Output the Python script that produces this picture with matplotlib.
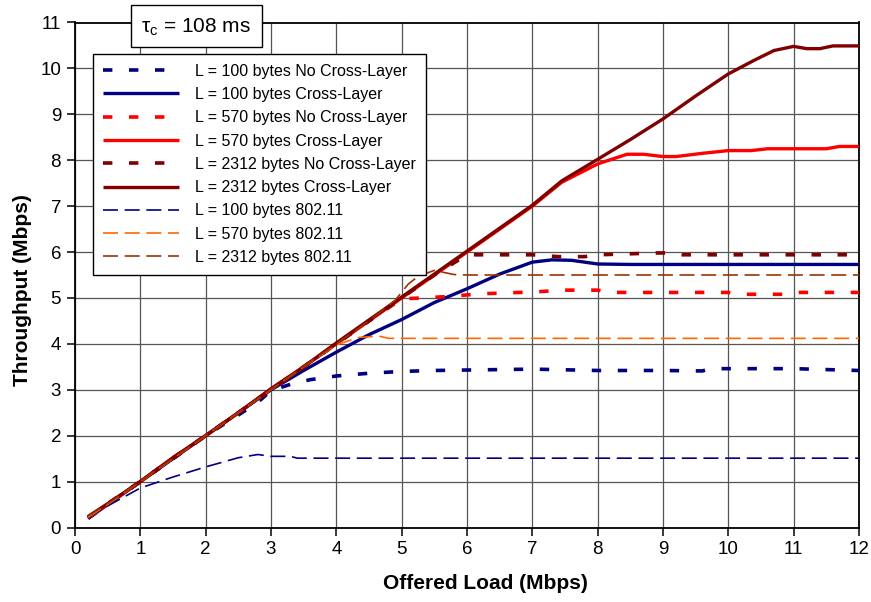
import matplotlib
matplotlib.use("Agg")
import matplotlib.pyplot as plt
from matplotlib.patches import Rectangle

plt.rcParams['font.family'] = ['Liberation Sans', 'DejaVu Sans']
plt.rcParams['mathtext.fontset'] = 'custom'
plt.rcParams['mathtext.rm'] = 'Liberation Sans'
plt.rcParams['mathtext.it'] = 'Liberation Sans'

# ---------------- data ----------------
x_ticks = list(range(0, 13))
y_ticks = list(range(0, 12))

# L = 100 bytes No Cross-Layer
x_100_ncl = [0.2, 0.5, 1.0, 1.5, 2.0, 2.5, 2.8, 3.0, 3.3, 3.6, 4.0, 4.5, 5.0, 5.5, 6.0, 7.0, 8.0, 9.0, 9.6, 9.75, 10.0, 11.0, 12.0]
y_100_ncl = [0.2, 0.5, 1.0, 1.5, 2.0, 2.45, 2.73, 2.98, 3.12, 3.22, 3.3, 3.36, 3.4, 3.42, 3.43, 3.45, 3.42, 3.42, 3.41, 3.46, 3.46, 3.46, 3.42]
# L = 100 bytes Cross-Layer
x_100_cl = [0.2, 0.5, 1.0, 1.5, 2.0, 2.5, 3.0, 3.5, 4.0, 4.5, 5.0, 5.5, 6.0, 6.5, 7.0, 7.3, 7.6, 8.0, 8.5, 9.0, 10.0, 11.0, 12.0]
y_100_cl = [0.2, 0.5, 1.0, 1.5, 2.0, 2.5, 3.0, 3.42, 3.82, 4.2, 4.53, 4.9, 5.2, 5.52, 5.78, 5.83, 5.82, 5.74, 5.73, 5.73, 5.73, 5.73, 5.73]
# L = 570 bytes No Cross-Layer
x_570_ncl = [0.2, 0.5, 1.0, 1.5, 2.0, 2.5, 3.0, 3.5, 4.0, 4.5, 5.0, 5.3, 5.7, 6.2, 7.0, 7.5, 8.0, 8.2, 9.0, 10.0, 10.2, 10.9, 11.1, 12.0]
y_570_ncl = [0.22, 0.5, 1.0, 1.52, 2.0, 2.5, 3.0, 3.5, 4.0, 4.5, 4.98, 5.0, 5.03, 5.09, 5.13, 5.17, 5.17, 5.12, 5.12, 5.12, 5.08, 5.08, 5.12, 5.12]
# L = 570 bytes Cross-Layer
x_570_cl = [0.2, 0.5, 1.0, 1.5, 2.0, 2.5, 3.0, 3.5, 4.0, 4.5, 5.0, 5.5, 6.0, 6.5, 7.0, 7.45, 8.0, 8.45, 8.7, 9.0, 9.2, 9.6, 10.0, 10.35, 10.6, 11.5, 11.7, 12.0]
y_570_cl = [0.22, 0.5, 1.0, 1.52, 2.0, 2.5, 3.02, 3.5, 4.0, 4.5, 5.0, 5.5, 6.0, 6.5, 7.0, 7.52, 7.92, 8.13, 8.13, 8.08, 8.08, 8.15, 8.21, 8.21, 8.25, 8.25, 8.3, 8.3]
# L = 2312 bytes No Cross-Layer
x_2312_ncl = [0.2, 0.5, 1.0, 1.5, 2.0, 2.5, 3.0, 3.5, 4.0, 4.5, 5.0, 5.5, 6.0, 7.0, 7.4, 7.8, 8.0, 8.9, 9.1, 9.3, 10.0, 11.0, 12.0]
y_2312_ncl = [0.22, 0.52, 1.0, 1.5, 2.0, 2.5, 3.0, 3.5, 4.0, 4.5, 5.0, 5.5, 5.94, 5.94, 5.9, 5.9, 5.94, 5.98, 5.98, 5.94, 5.94, 5.94, 5.94]
# L = 2312 bytes Cross-Layer
x_2312_cl = [0.2, 0.5, 1.0, 1.5, 2.0, 2.5, 3.0, 3.5, 4.0, 4.5, 5.0, 5.5, 6.0, 6.5, 7.0, 7.45, 8.0, 8.5, 9.0, 9.5, 10.0, 10.4, 10.7, 11.0, 11.2, 11.4, 11.6, 12.0]
y_2312_cl = [0.24, 0.52, 1.0, 1.52, 2.0, 2.5, 3.02, 3.5, 4.02, 4.52, 5.02, 5.52, 6.02, 6.52, 7.02, 7.55, 8.02, 8.45, 8.9, 9.4, 9.88, 10.18, 10.39, 10.48, 10.43, 10.43, 10.49, 10.49]
# L = 100 bytes 802.11
x_100_80211 = [0.2, 0.5, 1.0, 1.5, 2.0, 2.5, 2.8, 3.0, 3.3, 3.4, 4.0, 5.0, 6.0, 7.0, 8.0, 9.0, 10.0, 11.0, 12.0]
y_100_80211 = [0.22, 0.47, 0.86, 1.1, 1.32, 1.52, 1.59, 1.55, 1.55, 1.51, 1.51, 1.51, 1.51, 1.51, 1.51, 1.51, 1.51, 1.51, 1.51]
# L = 570 bytes 802.11
x_570_80211 = [0.2, 0.5, 1.0, 1.5, 2.0, 2.5, 3.0, 3.5, 4.0, 4.35, 4.65, 4.8, 5.0, 6.0, 7.0, 8.0, 9.0, 10.0, 11.0, 12.0]
y_570_80211 = [0.22, 0.5, 1.0, 1.5, 2.0, 2.5, 3.0, 3.5, 3.98, 4.14, 4.17, 4.12, 4.12, 4.12, 4.12, 4.12, 4.12, 4.12, 4.12, 4.12]
# L = 2312 bytes 802.11
x_2312_80211 = [0.2, 0.5, 1.0, 1.5, 2.0, 2.5, 3.0, 3.5, 4.0, 4.5, 4.9, 5.1, 5.25, 5.5, 5.8, 6.0, 7.0, 8.0, 9.0, 10.0, 11.0, 12.0]
y_2312_80211 = [0.25, 0.52, 1.0, 1.5, 2.0, 2.5, 3.0, 3.5, 4.0, 4.5, 4.95, 5.3, 5.47, 5.6, 5.51, 5.5, 5.5, 5.5, 5.5, 5.5, 5.5, 5.5]

labels = ["L = 100 bytes No Cross-Layer", "L = 100 bytes Cross-Layer",
          "L = 570 bytes No Cross-Layer", "L = 570 bytes Cross-Layer",
          "L = 2312 bytes No Cross-Layer", "L = 2312 bytes Cross-Layer",
          "L = 100 bytes 802.11", "L = 570 bytes 802.11", "L = 2312 bytes 802.11"]

NAVY, RED, DRED, ORANGE, BROWN = "#000080", "#FF0000", "#800000", "#FF6600", "#993300"

fig = plt.figure(figsize=(8.71, 6.02), dpi=100)
ax = fig.add_axes([75/871, 1 - 527.5/602, 784/871, 505/602])

dot = (0, (2.6, 4.6))
thin = (0, (9, 4))
series = [
    (x_100_ncl, y_100_ncl, NAVY, 2.6, dot),
    (x_100_cl, y_100_cl, NAVY, 2.4, '-'),
    (x_570_ncl, y_570_ncl, RED, 2.6, dot),
    (x_570_cl, y_570_cl, RED, 2.4, '-'),
    (x_2312_ncl, y_2312_ncl, DRED, 2.6, dot),
    (x_2312_cl, y_2312_cl, DRED, 2.4, '-'),
    (x_100_80211, y_100_80211, NAVY, 1.2, thin),
    (x_570_80211, y_570_80211, ORANGE, 1.2, thin),
    (x_2312_80211, y_2312_80211, BROWN, 1.2, thin),
]
for (xs, ys, c, lw, ls), lab in zip(series, labels):
    ax.plot(xs, ys, color=c, lw=lw, linestyle=ls, label=lab, solid_capstyle='butt',
            dash_capstyle='butt', zorder=3)

ax.set_xlim(0, 12)
ax.set_ylim(0, 11)
ax.set_xticks(x_ticks)
ax.set_yticks(y_ticks)
ax.grid(True, color="#555555", lw=0.9, zorder=0)
ax.set_axisbelow(True)
for s in ax.spines.values():
    s.set_linewidth(1.3)
    s.set_color('black')
ax.tick_params(direction='out', length=6, width=1.1, labelsize=13.5, pad=4, colors='black')
ax.set_xlabel("Offered Load (Mbps)", fontsize=15, fontweight='bold')
ax.set_ylabel("Throughput (Mbps)", fontsize=15, fontweight='bold')
ax.xaxis.set_label_coords((485 - 75) / 784, (527.5 - 574) / 505)
ax.yaxis.set_label_coords((32 - 75) / 784, (527.5 - 290) / 505)

leg = ax.legend(loc='upper left', bbox_to_anchor=((93-75)/784, (527.5-54)/505),
                borderaxespad=0, fontsize=11.5, frameon=True, fancybox=False,
                edgecolor='black', framealpha=1, handlelength=4.8, handletextpad=1.0,
                labelspacing=0.52, borderpad=0.6)
leg.get_frame().set_linewidth(1.0)
leg.set_zorder(5)

# tau_c box
fig.patches.append(Rectangle((131/871, 1 - 47/602), 131/871, 42/602, transform=fig.transFigure,
                             facecolor='white', edgecolor='black', lw=1.0, zorder=10))
fig.text(196/871, 1 - 27/602, r"$\mathrm{\tau_c}$ = 108 ms", fontsize=15, ha='center', va='center', zorder=11)

fig.savefig("out.png", dpi=100)
